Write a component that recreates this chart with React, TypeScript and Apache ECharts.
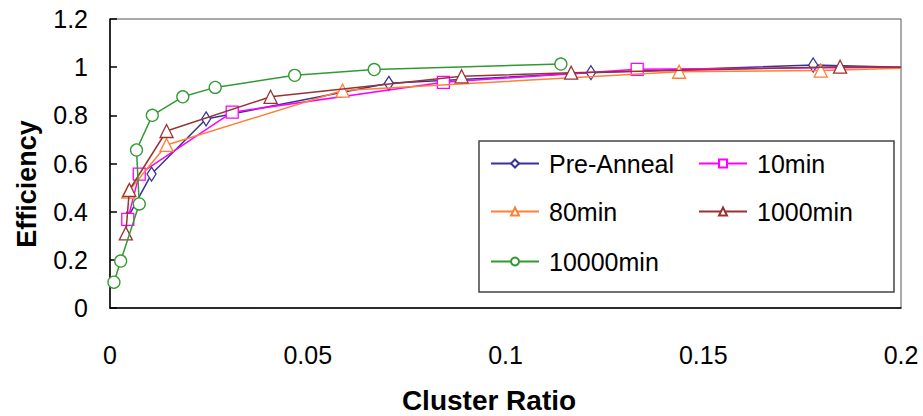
import React, { useEffect, useRef } from "react";
import * as echarts from "echarts";

const seriesNames = ["Pre-Anneal", "10min", "80min", "1000min", "10000min"];

const preAnnealX = [0.0044, 0.0105, 0.0243, 0.0705, 0.1216, 0.1778, 0.2];
const preAnnealY = [0.372, 0.556, 0.785, 0.933, 0.977, 1.009, 1.0];

const min10X = [0.0045, 0.0074, 0.0309, 0.0843, 0.1333, 0.2];
const min10Y = [0.368, 0.556, 0.813, 0.937, 0.991, 1.0];

const min80X = [0.0046, 0.0143, 0.0588, 0.1439, 0.1797, 0.2];
const min80Y = [0.483, 0.677, 0.903, 0.981, 0.986, 0.995];

const min1000X = [0.004, 0.0049, 0.0143, 0.0406, 0.0889, 0.1166, 0.1846, 0.2];
const min1000Y = [0.31, 0.49, 0.735, 0.877, 0.962, 0.977, 1.002, 1.0];

const min10000X = [0.001, 0.0027, 0.0074, 0.0067, 0.0107, 0.0184, 0.0266, 0.0467, 0.0668, 0.114];
const min10000Y = [0.107, 0.195, 0.432, 0.656, 0.8, 0.877, 0.916, 0.966, 0.99, 1.013];

const xTicks = [0, 0.05, 0.1, 0.15, 0.2];
const yTicks = [0, 0.2, 0.4, 0.6, 0.8, 1, 1.2];

const FONT = "'Liberation Sans', Arial, sans-serif";

function pairs(xs: number[], ys: number[], lastBare: boolean) {
  return xs.map((x, i) => {
    if (lastBare && i === xs.length - 1 && x >= 0.2) {
      return { value: [x, ys[i]], symbol: "none" };
    }
    return { value: [x, ys[i]] };
  });
}

export default function App() {
  const ref = useRef<HTMLDivElement>(null);
  useEffect(() => {
    if (!ref.current) return;
    const chart = echarts.init(ref.current, null, { renderer: "svg" });
    const colors = ["#333399", "#ff00ff", "#ff8033", "#993333", "#339933"];
    const symbols = ["diamond", "rect", "triangle", "triangle", "circle"];
    const sizes: any[] = [[9, 14], 12, 13, 13, 12];
    const datas = [
      pairs(preAnnealX, preAnnealY, true),
      pairs(min10X, min10Y, true),
      pairs(min80X, min80Y, true),
      pairs(min1000X, min1000Y, true),
      pairs(min10000X, min10000Y, false),
    ];
    const series = seriesNames.map((name, i) => ({
      name,
      type: "line",
      data: datas[i],
      symbol: symbols[i],
      symbolSize: sizes[i],
      showAllSymbol: true,
      lineStyle: { color: colors[i], width: 1.5 },
      itemStyle: { color: "#fff", borderColor: colors[i], borderWidth: 1.3 },
      color: colors[i],
      z: 2 + i,
    }));
    const legendPos = [
      { left: 490, top: 151 },
      { left: 698, top: 151 },
      { left: 490, top: 199 },
      { left: 698, top: 199 },
      { left: 490, top: 249 },
    ];
    const legends = seriesNames.map((name, i) => ({
      data: [name],
      left: legendPos[i].left,
      top: legendPos[i].top,
      padding: 0,
      itemWidth: 48,
      itemHeight: 10,
      z: 20,
      textStyle: { fontFamily: FONT, fontSize: 25, color: "#000", padding: [0, 0, 0, 5] },
      selectedMode: false,
    }));
    chart.setOption({
      animation: false,
      backgroundColor: "#fff",
      grid: {
        left: 110,
        top: 19,
        right: 22,
        bottom: 108,
        show: true,
        borderColor: "#555",
        borderWidth: 1,
      },
      xAxis: {
        type: "value",
        min: xTicks[0],
        max: xTicks[xTicks.length - 1],
        interval: 0.05,
        axisLine: { show: true, lineStyle: { color: "#000", width: 1.5 } },
        axisTick: { show: false },
        splitLine: { show: false },
        axisLabel: { fontFamily: FONT, fontSize: 25, color: "#000", margin: 34 },
      },
      yAxis: {
        type: "value",
        min: yTicks[0],
        max: yTicks[yTicks.length - 1],
        interval: 0.2,
        axisLine: { show: true, lineStyle: { color: "#000", width: 1.5 } },
        axisTick: { show: true, inside: true, length: 7, lineStyle: { color: "#000", width: 1.5 } },
        splitLine: { show: false },
        axisLabel: { fontFamily: FONT, fontSize: 25, color: "#000", margin: 22 },
      },
      legend: legends,
      graphic: [
        {
          type: "rect",
          shape: { x: 479, y: 141, width: 415, height: 151 },
          style: { fill: "#fff", stroke: "#444", lineWidth: 1.5 },
          z: 10,
        },
        {
          type: "text",
          x: 27,
          y: 184,
          rotation: Math.PI / 2,
          style: {
            text: "Efficiency",
            fontFamily: FONT,
            fontWeight: "bold",
            fontSize: 27,
            fill: "#000",
            textAlign: "center",
            textVerticalAlign: "middle",
          },
        },
        {
          type: "text",
          x: 489,
          y: 400,
          style: {
            text: "Cluster Ratio",
            fontFamily: FONT,
            fontWeight: "bold",
            fontSize: 28,
            fill: "#000",
            textAlign: "center",
            textVerticalAlign: "middle",
          },
        },
      ],
      series,
    });
    return () => chart.dispose();
  }, []);
  return (
    <div
      ref={ref}
      style={{ position: "fixed", left: 0, top: 0, width: 923, height: 416 }}
    />
  );
}
